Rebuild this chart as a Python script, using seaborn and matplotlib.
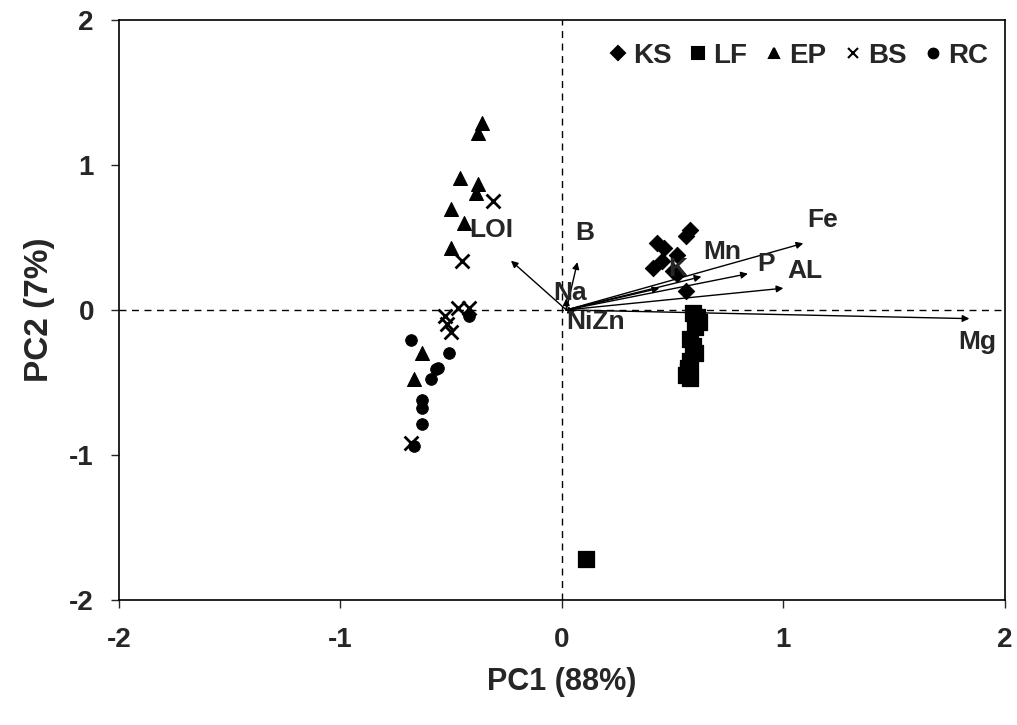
import matplotlib
matplotlib.use("Agg")
import matplotlib.pyplot as plt
import seaborn as sns
import pandas as pd
from matplotlib.lines import Line2D

# ---- data ----
ks_x = [0.43, 0.46, 0.52, 0.56, 0.58, 0.41, 0.45, 0.50, 0.52, 0.56]
ks_y = [0.46, 0.43, 0.38, 0.51, 0.55, 0.29, 0.34, 0.27, 0.25, 0.13]
lf_x = [0.59, 0.61, 0.62, 0.60, 0.58, 0.59, 0.60, 0.58, 0.57, 0.56, 0.58, 0.57, 0.11]
lf_y = [-0.02, -0.05, -0.08, -0.12, -0.20, -0.25, -0.30, -0.35, -0.42, -0.45, -0.47, -0.40, -1.72]
ep_x = [-0.36, -0.38, -0.46, -0.38, -0.39, -0.50, -0.44, -0.50, -0.63, -0.67]
ep_y = [1.29, 1.22, 0.91, 0.87, 0.81, 0.70, 0.60, 0.43, -0.30, -0.48]
bs_x = [-0.31, -0.45, -0.53, -0.47, -0.42, -0.50, -0.52, -0.68]
bs_y = [0.75, 0.34, -0.04, 0.01, 0.01, -0.15, -0.10, -0.92]
rc_x = [-0.68, -0.51, -0.57, -0.59, -0.63, -0.63, -0.63, -0.67, -0.42, -0.56]
rc_y = [-0.21, -0.30, -0.41, -0.48, -0.62, -0.68, -0.79, -0.94, -0.04, -0.40]

groups = ["KS", "LF", "EP", "BS", "RC"]
markers = {"KS": "D", "LF": "s", "EP": "^", "BS": "x", "RC": "o"}
sizes = {"KS": 70, "LF": 130, "EP": 100, "BS": 100, "RC": 70}

var_names = ["LOI", "B", "Na", "NiZn", "K", "Mn", "Fe", "P", "AL", "Mg"]
var_x = [-0.23, 0.07, 0.02, 0.06, 0.44, 0.63, 1.09, 0.84, 1.00, 1.84]
var_y = [0.34, 0.33, 0.08, -0.01, 0.15, 0.23, 0.46, 0.25, 0.15, -0.06]
label_x = [-0.42, 0.06, -0.04, 0.02, 0.48, 0.64, 1.11, 0.88, 1.02, 1.79]
label_y = [0.55, 0.53, 0.12, -0.08, 0.28, 0.40, 0.62, 0.32, 0.27, -0.22]

df = pd.DataFrame({
    "PC1": ks_x + lf_x + ep_x + bs_x + rc_x,
    "PC2": ks_y + lf_y + ep_y + bs_y + rc_y,
    "group": ["KS"] * len(ks_x) + ["LF"] * len(lf_x) + ["EP"] * len(ep_x)
             + ["BS"] * len(bs_x) + ["RC"] * len(rc_x),
})

sns.set_style("white")
plt.rcParams["font.family"] = ["Liberation Sans", "DejaVu Sans"]
plt.rcParams["axes.unicode_minus"] = False

fig = plt.figure(figsize=(10.17, 7.25), dpi=100)
ax = fig.add_axes([0.117, 0.173, 0.871, 0.799])

ax.axhline(0, color="black", lw=1, ls=(0, (5, 4)), zorder=1)
ax.axvline(0, color="black", lw=1, ls=(0, (5, 4)), zorder=1)

for g in groups:
    sub = df[df["group"] == g]
    kw = dict(color="black", s=sizes[g], marker=markers[g], ax=ax, zorder=3, legend=False)
    if g == "BS":
        kw["linewidth"] = 2
    else:
        kw["edgecolor"] = "black"
    sns.scatterplot(data=sub, x="PC1", y="PC2", **kw)

for n, vx, vy, lx, ly in zip(var_names, var_x, var_y, label_x, label_y):
    ax.annotate("", xy=(vx, vy), xytext=(0.02, 0.0),
                arrowprops=dict(arrowstyle="-|>", color="black", lw=1,
                                mutation_scale=10, shrinkA=0, shrinkB=0), zorder=2)
    ax.text(lx, ly, n, fontsize=19, fontweight="bold", ha="left", va="center", zorder=4)

ax.set_xlim(-2, 2)
ax.set_ylim(-2, 2)
ax.set_xticks([-2, -1, 0, 1, 2])
ax.set_yticks([-2, -1, 0, 1, 2])
ax.tick_params(direction="out", length=6, width=1, labelsize=20, bottom=True, left=True)
ax.tick_params(axis="x", pad=14)
ax.tick_params(axis="y", pad=12)
for lab in ax.get_xticklabels() + ax.get_yticklabels():
    lab.set_fontweight("bold")
for sp in ax.spines.values():
    sp.set_color("black")
    sp.set_linewidth(1.2)

ax.set_xlabel("PC1 (88%)", fontsize=22, fontweight="bold", labelpad=10)
ax.set_ylabel("PC2 (7%)", fontsize=24, fontweight="bold", labelpad=10)

handles = [Line2D([], [], ls="", marker=markers[g], color="black",
                  markersize=7 if g != "LF" else 8, markeredgewidth=1.5) for g in groups]
leg = ax.legend(handles, groups, loc="upper right", ncol=5, frameon=False,
                handletextpad=0.1, columnspacing=0.5, handlelength=0.9,
                prop={"size": 20, "weight": "bold"}, bbox_to_anchor=(1.0, 0.99),
                borderaxespad=0.2)

fig.savefig("out.png", dpi=100)
